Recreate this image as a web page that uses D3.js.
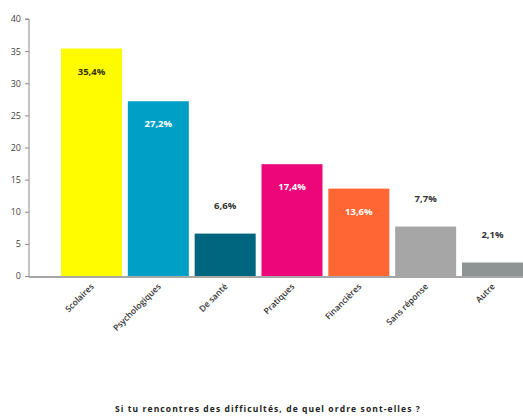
<!DOCTYPE html>
<html>
<head>
<meta charset="utf-8">
<script src="https://cdn.jsdelivr.net/npm/d3@7"></script>
<style>
  html, body { margin: 0; padding: 0; background: #fff; }
  svg { display: block; }
</style>
</head>
<body>
<svg id="chart" width="523" height="419"></svg>
<script>
// Survey answers: kinds of difficulties encountered (% of respondents)
const categories = ["Scolaires", "Psychologiques", "De santé", "Pratiques", "Financières", "Sans réponse", "Autre"];
const values = [35.4, 27.2, 6.6, 17.4, 13.6, 7.7, 2.1];
const valueLabels = ["35,4%", "27,2%", "6,6%", "17,4%", "13,6%", "7,7%", "2,1%"];
const colors = ["#fffc00", "#009fc5", "#00657f", "#ec0679", "#ff6633", "#a6a6a6", "#8e9494"];
// label placement: inside the bar (with text colour) or above it
const labelInside = [true, true, false, true, true, false, false];
const labelColors = ["#333300", "#ffffff", "#333333", "#ffffff", "#ffffff", "#333333", "#333333"];
const yTicks = [0, 5, 10, 15, 20, 25, 30, 35, 40];
const title = "Si tu rencontres des difficultés, de quel ordre sont-elles ?";

const svg = d3.select("#chart");
const axisX = 29, baseY = 276, topY = 19;

const x = d3.scaleBand()
  .domain(categories)
  .range([axisX, 555])
  .paddingInner(0.087)
  .paddingOuter(0.479);

const y = d3.scaleLinear().domain([0, 40]).range([baseY, topY]);

const font = "'Open Sans', 'DejaVu Sans', sans-serif";

// bars
svg.append("g").selectAll("rect")
  .data(categories)
  .join("rect")
  .attr("x", d => x(d))
  .attr("width", x.bandwidth())
  .attr("y", (d, i) => y(values[i]))
  .attr("height", (d, i) => baseY - y(values[i]))
  .attr("fill", (d, i) => colors[i]);

// y axis
const yAxis = svg.append("g")
  .attr("transform", `translate(${axisX},0)`)
  .call(d3.axisLeft(y).tickValues(yTicks).tickSize(4).tickPadding(4).tickFormat(d3.format("d")));
yAxis.select(".domain").attr("stroke", "#8a8a8a").attr("d", `M-4,${topY}H0V${baseY + 1}`);
yAxis.selectAll(".tick line").attr("stroke", "#8a8a8a");
yAxis.selectAll(".tick text")
  .attr("fill", "#444")
  .style("font-family", font)
  .style("font-size", "9px");

// x baseline
svg.append("line")
  .attr("x1", axisX).attr("x2", 523)
  .attr("y1", baseY + 1).attr("y2", baseY + 1)
  .attr("stroke", "#8a8a8a").attr("stroke-width", 1.5);

// category labels, rotated
svg.append("g").selectAll("text")
  .data(categories)
  .join("text")
  .attr("transform", d => `translate(${x(d) + x.bandwidth() / 2 + 3},${baseY + 11}) rotate(-45)`)
  .attr("text-anchor", "end")
  .attr("fill", "#333")
  .style("font-family", font)
  .style("font-size", "8.5px")
  .style("font-weight", "600")
  .text(d => d);

// value labels
svg.append("g").selectAll("text")
  .data(categories)
  .join("text")
  .attr("x", d => x(d) + x.bandwidth() / 2)
  .attr("y", (d, i) => labelInside[i] ? y(values[i]) + 26 : y(values[i]) - 25)
  .attr("text-anchor", "middle")
  .attr("fill", (d, i) => labelColors[i])
  .style("font-family", font)
  .style("font-size", "9.5px")
  .style("font-weight", "700")
  .text((d, i) => valueLabels[i]);

// title
svg.append("text")
  .attr("x", 268)
  .attr("y", 412)
  .attr("text-anchor", "middle")
  .attr("fill", "#222")
  .style("font-family", font)
  .style("font-size", "8.5px")
  .style("font-weight", "700")
  .style("letter-spacing", "1.1px")
  .text(title);
</script>
</body>
</html>
